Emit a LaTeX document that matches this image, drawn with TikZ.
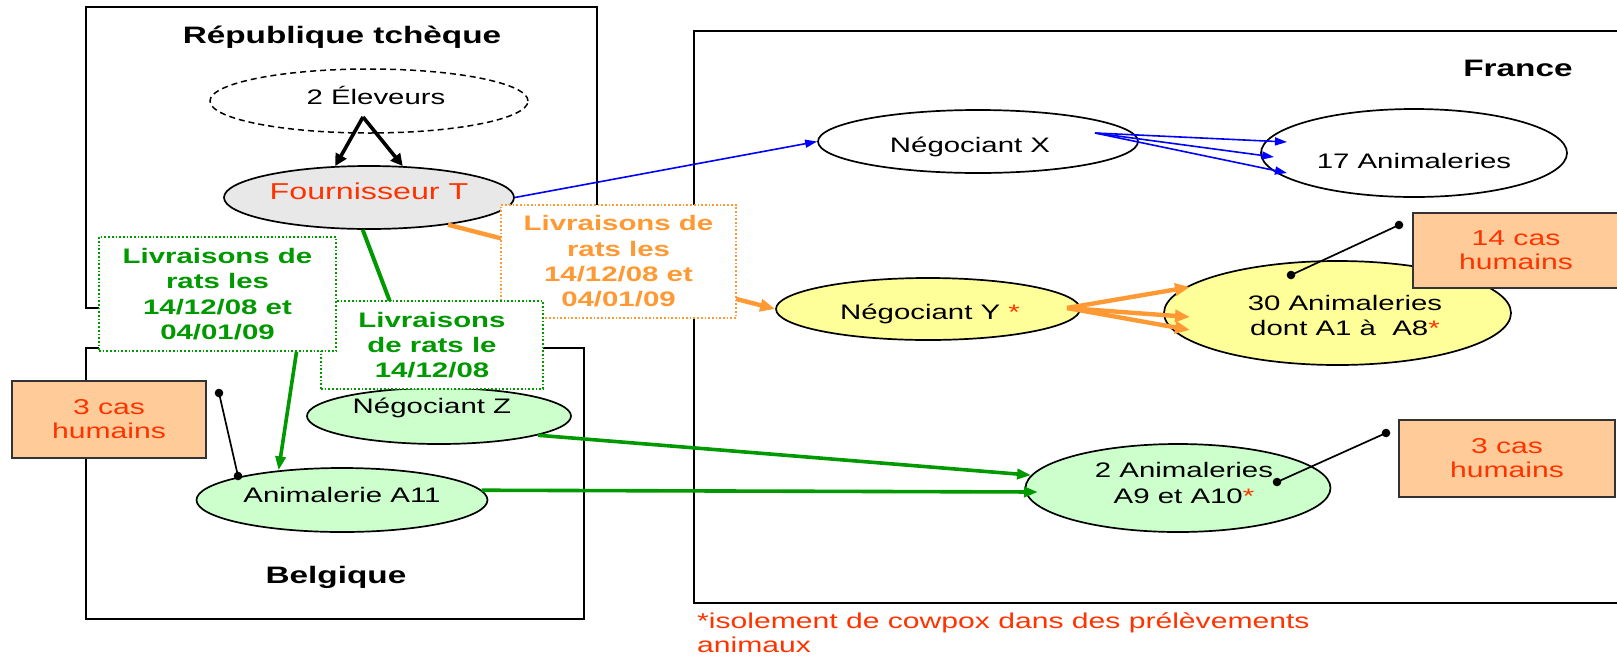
\documentclass[tikz,border=0pt]{standalone}
\usepackage{fontspec}
\setmainfont{Liberation Sans}[FakeStretch=1.4]
\usetikzlibrary{arrows.meta,shapes.geometric,calc}
\definecolor{cred}{HTML}{FF3300}
\definecolor{corange}{HTML}{FF9933}
\definecolor{cgreen}{HTML}{009900}
\definecolor{lgreen}{HTML}{CCFFCC}
\definecolor{lyellow}{HTML}{FFFF99}
\definecolor{lgray}{HTML}{E8E8E8}
\definecolor{salmon}{HTML}{FFCC99}
\definecolor{cblue}{HTML}{0000FF}
\newcommand\fmain{\fontsize{21}{25.3}\selectfont}
\newcommand\ftitle{\fontsize{23.8}{28}\selectfont\bfseries}
\newcommand\fcas{\fontsize{21.5}{24}\selectfont}
\begin{document}
\begin{tikzpicture}[x=1pt,y=-1pt,
  country/.style={rectangle, draw=black, line width=1.8pt, fill=white, inner sep=0pt},
  ell/.style={ellipse, draw=black, line width=1.7pt, inner sep=0pt},
  txt/.style={inner sep=0pt, anchor=base, font=\fmain},
  mtxt/.style={inner sep=0pt, anchor=center, align=center, font=\fmain},
  title/.style={inner sep=0pt, anchor=base, font=\ftitle},
  lbl/.style={rectangle, fill=white, line width=1.7pt, dash pattern=on 1.7pt off 2pt, align=center, inner sep=0pt, font=\fmain\bfseries},
  cas/.style={rectangle, draw=black!80, fill=salmon, line width=2.4pt, text=cred, align=center, inner sep=0pt, font=\fcas},
  garrow/.style={draw=cgreen, line width=3.6pt, -{Triangle[length=14pt,width=10pt]}},
  gline/.style={draw=cgreen, line width=4pt},
  oarrow/.style={draw=corange, line width=4.4pt, -{Triangle[length=15pt,width=12pt]}},
  barrow/.style={draw=cblue, line width=1.6pt, -{Triangle[length=12pt,width=8pt]}},
  karrow/.style={draw=black, line width=3.6pt, -{Triangle[length=12pt,width=12pt]}},
  pin/.style={draw=black, line width=1.7pt},
  pindot/.style={fill=black}
]
\useasboundingbox (0,0) rectangle (1617,657);
% country boxes
\node[country, minimum width=511, minimum height=301] (cz) at (341.5,157.5) {};
\node[country, minimum width=498, minimum height=271] (be) at (335,483.5) {};
\node[country, minimum width=940, minimum height=572] (fr) at (1164,317) {};
\node[title] (tCZ) at (342,43) {République tchèque};
\node[title] (tBE) at (336,583) {Belgique};
\node[title] (tFR) at (1518,76) {France};
% ellipses
\node[ell, dash pattern=on 6pt off 4pt, line width=1.5pt, fill=white, minimum width=318, minimum height=64] (elev) at (369,101) {};
\node[ell, fill=lgray, minimum width=290, minimum height=63] (fT) at (369,197.5) {};
\node[ell, fill=white, minimum width=320, minimum height=63] (negX) at (978,141.5) {};
\node[ell, fill=white, minimum width=306, minimum height=88] (anim17) at (1414,153) {};
\node[ell, fill=lyellow, minimum width=304, minimum height=62] (negY) at (928,309) {};
\node[ell, fill=lyellow, minimum width=347, minimum height=104] (anim30) at (1337.5,313) {};
\node[ell, fill=lgreen, minimum width=264, minimum height=56] (negZ) at (439,416) {};
\node[ell, fill=lgreen, minimum width=291, minimum height=64] (a11) at (342,500) {};
\node[ell, fill=lgreen, minimum width=305, minimum height=88] (anim2) at (1178,488) {};
% ellipse texts
\node[txt] (telev) at (376,104) {2 Éleveurs};
\node[txt, text=cred, font=\fontsize{23}{27}\selectfont] (tfT) at (369,199) {Fournisseur T};
\node[txt] (tnegX) at (970,152) {Négociant X};
\node[txt] (tanim17) at (1414,168) {17 Animaleries};
\node[txt] (tnegY) at (930,319) {Négociant Y {\color{cred}*}};
\node[mtxt] (tanim30) at (1345,315.5) {30 Animaleries\\dont A1 à\ \ A8{\color{cred}*}};
\node[txt] (tnegZ) at (432,413) {Négociant Z};
\node[txt] (ta11) at (342,502) {Animalerie A11};
\node[mtxt] (tanim2) at (1184,483) {2 Animaleries\\A9 et A10{\color{cred}*}};
% connectors from Fournisseur T (behind the label boxes)
\draw[barrow] (fT.east) -- (negX.west);
\draw[oarrow] (fT.-19) -- (negY.west);
\draw[gline] (fT.-101) -- (negZ.120);
% label boxes
\node[lbl, draw=corange, text=corange, minimum width=235, minimum height=113] (lblO) at (618.5,261.5) {Livraisons de\\rats les\\14/12/08 et\\04/01/09};
\node[lbl, draw=cgreen, text=cgreen, minimum width=222, minimum height=88] (lbl2) at (432,345) {Livraisons\\de rats le\\14/12/08};
\node[lbl, draw=cgreen, text=cgreen, minimum width=237, minimum height=114] (lbl1) at (217.5,294) {Livraisons de\\rats les\\14/12/08 et\\04/01/09};
% other connectors
\coordinate (elApex) at (363,117);
\draw[karrow] (elApex) -- (fT.137);
\draw[karrow] (elApex) -- (fT.43);
\coordinate (bxs) at ($(lbl1.south west)!0.831!(lbl1.south east)$);
\draw[garrow] (bxs) -- (a11.155);
\draw[garrow] (negZ.-11) -- (anim2.175);
\coordinate (g2end) at (1038,492);
\draw[garrow] (a11.4) -- (g2end);
\coordinate (bX) at (1095,133);
\coordinate (bT1) at (1287,142);
\coordinate (bT2) at (1274,157);
\coordinate (bT3) at (1287,173);
\draw[barrow] (bX) -- (bT1);
\draw[barrow] (bX) -- (bT2);
\draw[barrow] (bX) -- (bT3);
\coordinate (oY) at (1067,308);
\coordinate (oT1) at (1190,287);
\coordinate (oT2) at (1190,317);
\coordinate (oT3) at (1190,330);
\draw[oarrow] (oY) -- (oT1);
\draw[oarrow] (oY) -- (oT2);
\draw[oarrow] (oY) -- (oT3);
% human cases
\node[cas, minimum width=194.5, minimum height=77] (casL) at (109,419.5) {3 cas\\humains};
\node[cas, minimum width=206, minimum height=75] (cas14) at (1516,250.5) {14 cas\\humains};
\node[cas, minimum width=216, minimum height=77] (cas3R) at (1507,458.5) {3 cas\\humains};
\coordinate (pinL1) at (219,393);
\coordinate (pinL2) at (238,476);
\coordinate (pin14a) at (1399,225);
\coordinate (pin14b) at (1291,275);
\coordinate (pin3a) at (1386,433);
\coordinate (pin3b) at (1277,482);
\draw[pin] (pinL1) -- (pinL2);
\draw[pin] (pin14a) -- (pin14b);
\draw[pin] (pin3a) -- (pin3b);
\foreach \p in {pinL1,pinL2,pin14a,pin14b,pin3a,pin3b} \fill[pindot] (\p) circle (4.3);
% footnote
\node[inner sep=0pt, anchor=south west, align=left, text=cred, font=\fontsize{21.5}{24}\selectfont] (foot) at (697,652.5) {*isolement de cowpox dans des prélèvements\\animaux};
\end{tikzpicture}
\end{document}
